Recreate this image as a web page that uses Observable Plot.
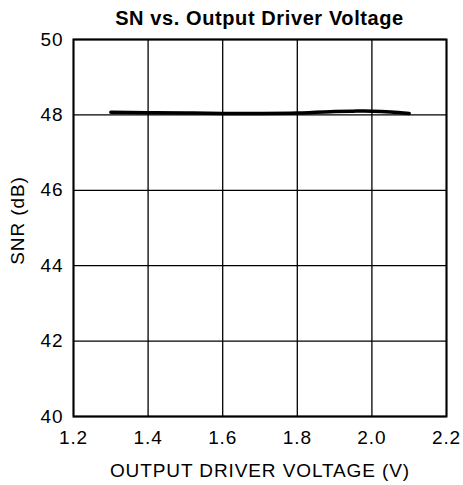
<!DOCTYPE html>
<html>
<head>
<meta charset="utf-8">
<script src="https://cdn.jsdelivr.net/npm/d3@7"></script>
<script src="https://cdn.jsdelivr.net/npm/@observablehq/plot@0.6"></script>
<style>
  body { margin: 0; background: #fff; font-family: "Liberation Sans", Arial, sans-serif; }
  #title { width: 463px; height: 33px; box-sizing: border-box; padding: 3px 17px 0 73px; line-height: 30px;
           font-weight: bold; font-size: 20px; letter-spacing: 0.6px; text-align: center; color: #000; white-space: nowrap; }
</style>
</head>
<body>
<div id="title">SN vs. Output Driver Voltage</div>
<div id="chart"></div>
<script>
const voltage = [1.3, 1.4, 1.5, 1.6, 1.7, 1.8, 1.9, 1.95, 2.0, 2.05, 2.1];
const snr = [48.07, 48.06, 48.05, 48.04, 48.04, 48.05, 48.09, 48.1, 48.1, 48.08, 48.04];
const xTicks = [1.2, 1.4, 1.6, 1.8, 2.0, 2.2];
const yTicks = [40, 42, 44, 46, 48, 50];
const xLabel = "OUTPUT DRIVER VOLTAGE (V)";
const yLabel = "SNR (dB)";

const data = voltage.map((v, i) => ({v, s: snr[i]}));

const chart = Plot.plot({
  width: 463,
  height: 452,
  marginTop: 6,
  marginBottom: 69,
  marginLeft: 73,
  marginRight: 17,
  style: {fontFamily: "'Liberation Sans', Arial, sans-serif", fontSize: "19px", letterSpacing: "0.9px", color: "#000", background: "#fff", overflow: "visible"},
  x: {domain: [1.2, 2.2]},
  y: {domain: [40, 50]},
  marks: [
    Plot.gridX(xTicks, {stroke: "#000", strokeOpacity: 1, strokeWidth: 1.3}),
    Plot.gridY(yTicks, {stroke: "#000", strokeOpacity: 1, strokeWidth: 1.3}),
    Plot.axisX(xTicks, {tickSize: 0, tickPadding: 14, tickFormat: d => d.toFixed(1), label: null, fontSize: 19}),
    Plot.axisY(yTicks, {tickSize: 0, tickPadding: 10, label: null, fontSize: 19}),
    Plot.line(data, {x: "v", y: "s", stroke: "#000", strokeWidth: 3.5, curve: "natural"}),
    Plot.frame({stroke: "#000", strokeWidth: 2}),
    Plot.text([xLabel], {text: d => d, frameAnchor: "bottom", lineAnchor: "middle", textAnchor: "middle", dy: 54, fontSize: 19, fill: "#000"}),
    Plot.text([yLabel], {text: d => d, frameAnchor: "left", lineAnchor: "middle", textAnchor: "middle", rotate: -90, dx: -56, dy: -7.5, fontSize: 19, fill: "#000"})
  ]
});
document.getElementById("chart").appendChild(chart);
</script>
</body>
</html>
